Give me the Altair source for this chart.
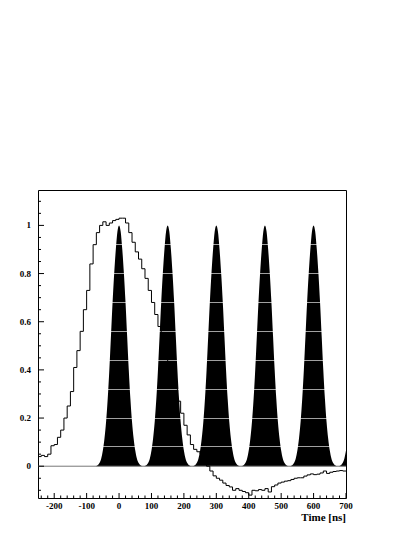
import altair as alt
import pandas as pd

# ---------------- data ----------------
x_domain = [-250, 700]
y_domain = [-0.132, 1.147]

# histogram (10 ns bins starting at -250 ns)
hist_start = -250
hist_bin = 10
hist_values = [
    0.040, 0.045, 0.040, 0.050, 0.085, 0.090, 0.120, 0.150, 0.200, 0.250,   # -250 .. -160
    0.310, 0.410, 0.480, 0.560, 0.650, 0.730, 0.840, 0.920, 0.970, 1.000,   # -150 .. -60
    1.015, 1.000, 1.010, 1.020, 1.025, 1.030, 1.030, 1.010, 0.970, 0.930,   # -50 .. 40
    0.890, 0.860, 0.820, 0.780, 0.730, 0.680, 0.630, 0.580, 0.530, 0.470,   # 50 .. 140
    0.420, 0.370, 0.330, 0.270, 0.220, 0.170, 0.130, 0.090, 0.070, 0.060,   # 150 .. 240
    0.050, 0.020, 0.000, -0.020, -0.040, -0.050, -0.058, -0.070, -0.080, -0.086,  # 250 .. 340
    -0.100, -0.093, -0.100, -0.105, -0.110, -0.120, -0.100, -0.102, -0.097, -0.100,  # 350 .. 440
    -0.093, -0.107, -0.085, -0.078, -0.070, -0.066, -0.062, -0.060, -0.055, -0.050,  # 450 .. 540
    -0.048, -0.048, -0.041, -0.036, -0.032, -0.035, -0.033, -0.028, -0.020, -0.030,  # 550 .. 640
    -0.025, -0.022, -0.020, -0.018, -0.020,                                          # 650 .. 690
]

# pulses (black filled shapes)
pulse_centers = [0, 150, 300, 450, 600, 750]
pulse_step = 5
# pulse height at offsets 0, 5, 10, ... 75 ns from the centre
pulse_profile = [1.0, 0.975, 0.90, 0.80, 0.68, 0.54, 0.40, 0.28,
                 0.185, 0.115, 0.065, 0.032, 0.014, 0.005, 0.001, 0.0]

stripe_levels = [0.08, 0.20, 0.32, 0.44, 0.56, 0.68, 0.80, 0.92]

x_major = list(range(-200, 701, 100))
x_labels = [str(t) for t in x_major]
x_minor = [t for t in range(-240, 700, 20) if t % 100 != 0]
y_major = [0, 0.2, 0.4, 0.6, 0.8, 1]
y_labels = ["0", "0.2", "0.4", "0.6", "0.8", "1"]
y_minor = [-0.1, -0.05, 0.05, 0.1, 0.15, 0.25, 0.3, 0.35, 0.45, 0.5, 0.55,
           0.65, 0.7, 0.75, 0.85, 0.9, 0.95, 1.05, 1.1]
x_title = "Time [ns]"

# ---------------- tables ----------------
hist_rows = [{"t": hist_start + i * hist_bin, "v": v} for i, v in enumerate(hist_values)]
hist_rows.append({"t": hist_start + len(hist_values) * hist_bin, "v": hist_values[-1]})
hist_df = pd.DataFrame(hist_rows)

span = (len(pulse_profile) - 1) * pulse_step
area_rows = []
for t in range(-span, x_domain[1] + 1, pulse_step):
    v = 0.0
    for c in pulse_centers:
        d = abs(t - c)
        if d <= span:
            v = max(v, pulse_profile[d // pulse_step])
    area_rows.append({"t": t, "v": v})
area_df = pd.DataFrame(area_rows)

W, H = 308, 308
FONT = "Liberation Serif"

xs = alt.Scale(domain=x_domain, nice=False, zero=False)
ys = alt.Scale(domain=y_domain, nice=False, zero=False)

h = 0.0022
stops = [alt.GradientStop(offset=0, color="black")]
for s in stripe_levels:
    stops += [alt.GradientStop(offset=s - h, color="black"),
              alt.GradientStop(offset=s - h, color="#a0a0a0"),
              alt.GradientStop(offset=s + h, color="#a0a0a0"),
              alt.GradientStop(offset=s + h, color="black")]
stops.append(alt.GradientStop(offset=1, color="black"))
grad = alt.LinearGradient(gradient="linear", stops=stops, x1=1, x2=1, y1=1, y2=0)

area = alt.Chart(area_df).mark_area(color=grad, interpolate="monotone").encode(
    x=alt.X("t:Q", scale=xs, axis=None),
    y=alt.Y("v:Q", scale=ys, axis=None),
    y2=alt.datum(0),
)

zero = alt.Chart(pd.DataFrame({"v": [0]})).mark_rule(color="#777777", strokeWidth=1).encode(
    y=alt.Y("v:Q", scale=ys, axis=None)
)

hist = alt.Chart(hist_df).mark_line(interpolate="step-after", color="black", strokeWidth=1).encode(
    x=alt.X("t:Q", scale=xs, axis=None),
    y=alt.Y("v:Q", scale=ys, axis=None),
)

def xticks(vals, length):
    return alt.Chart(pd.DataFrame({"t": vals})).mark_rule(color="black", strokeWidth=1).encode(
        x=alt.X("t:Q", scale=xs, axis=None),
        y=alt.value(H),
        y2=alt.value(H - length),
    )

def yticks(vals, length):
    return alt.Chart(pd.DataFrame({"v": vals})).mark_rule(color="black", strokeWidth=1).encode(
        y=alt.Y("v:Q", scale=ys, axis=None),
        x=alt.value(0),
        x2=alt.value(length),
    )

xlab = alt.Chart(pd.DataFrame({"t": x_major, "s": x_labels})).mark_text(
    font=FONT, fontWeight="bold", fontSize=9, color="black", align="center", baseline="middle"
).encode(x=alt.X("t:Q", scale=xs, axis=None), y=alt.value(H + 8), text="s:N")

ylab = alt.Chart(pd.DataFrame({"v": y_major, "s": y_labels})).mark_text(
    font=FONT, fontWeight="bold", fontSize=9, color="black", align="right", baseline="middle"
).encode(y=alt.Y("v:Q", scale=ys, axis=None), x=alt.value(-7), text="s:N")

xtitle = alt.Chart(pd.DataFrame({"s": [x_title]})).mark_text(
    font=FONT, fontWeight="bold", fontSize=11, color="black", align="right", baseline="alphabetic"
).encode(x=alt.value(W), y=alt.value(H + 23), text="s:N")

chart = alt.layer(
    area, zero, hist,
    xticks(x_major, 5), xticks(x_minor, 2.5),
    yticks(y_major, 6), yticks(y_minor, 3),
    xlab, ylab, xtitle,
).properties(
    width=W, height=H,
    autosize=alt.AutoSizeParams(type="none"),
    padding={"left": 30, "top": 182, "right": 30, "bottom": 32},
).configure_view(stroke="black", strokeWidth=1)

chart.save("out.html", embed_options={"renderer": "svg", "actions": False})
